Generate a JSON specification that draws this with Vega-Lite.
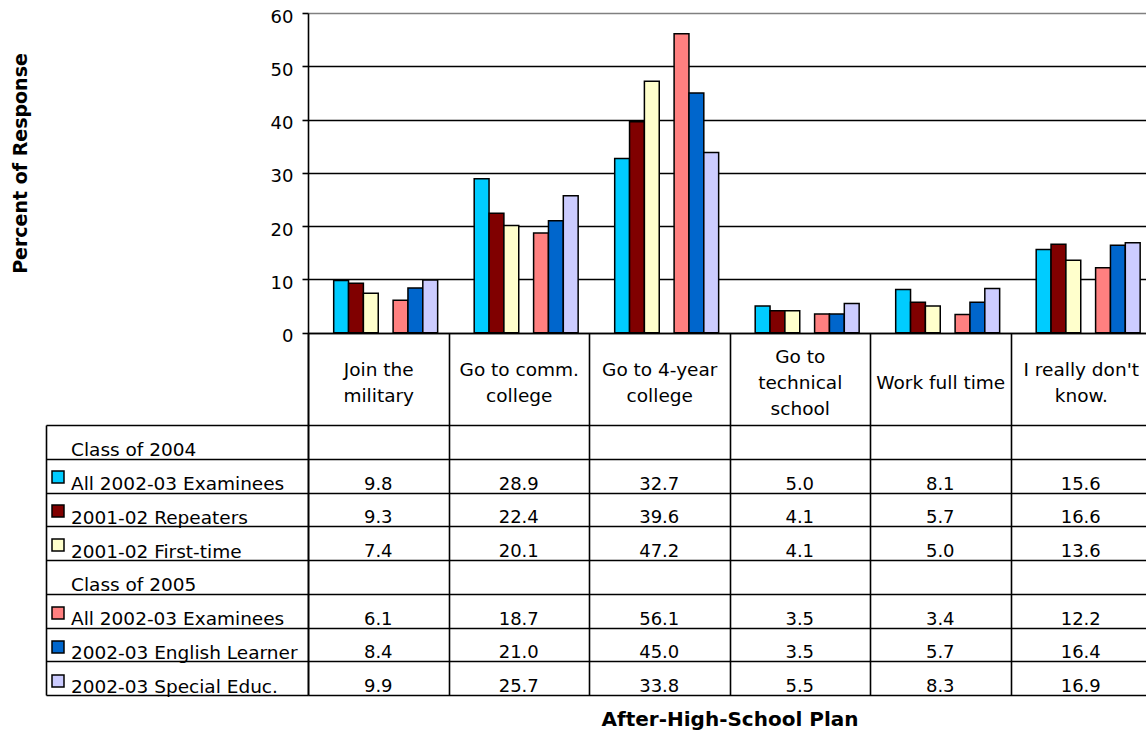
{
  "$schema": "https://vega.github.io/schema/vega-lite/v6.json",
  "width": 838,
  "height": 682,
  "autosize": {"type": "none"},
  "padding": {"left": 308, "top": 13, "right": 0, "bottom": 41},
  "config": {"font": "DejaVu Sans", "view": {"stroke": null}},
  "data": {"values": [
    {"plan": "Join the military", "series": "All 2002-03 Examinees (Class of 2004)", "value": 9.8},
    {"plan": "Join the military", "series": "2001-02 Repeaters", "value": 9.3},
    {"plan": "Join the military", "series": "2001-02 First-time", "value": 7.4},
    {"plan": "Join the military", "series": "All 2002-03 Examinees (Class of 2005)", "value": 6.1},
    {"plan": "Join the military", "series": "2002-03 English Learner", "value": 8.4},
    {"plan": "Join the military", "series": "2002-03 Special Educ.", "value": 9.9},
    {"plan": "Go to comm. college", "series": "All 2002-03 Examinees (Class of 2004)", "value": 28.9},
    {"plan": "Go to comm. college", "series": "2001-02 Repeaters", "value": 22.4},
    {"plan": "Go to comm. college", "series": "2001-02 First-time", "value": 20.1},
    {"plan": "Go to comm. college", "series": "All 2002-03 Examinees (Class of 2005)", "value": 18.7},
    {"plan": "Go to comm. college", "series": "2002-03 English Learner", "value": 21.0},
    {"plan": "Go to comm. college", "series": "2002-03 Special Educ.", "value": 25.7},
    {"plan": "Go to 4-year college", "series": "All 2002-03 Examinees (Class of 2004)", "value": 32.7},
    {"plan": "Go to 4-year college", "series": "2001-02 Repeaters", "value": 39.6},
    {"plan": "Go to 4-year college", "series": "2001-02 First-time", "value": 47.2},
    {"plan": "Go to 4-year college", "series": "All 2002-03 Examinees (Class of 2005)", "value": 56.1},
    {"plan": "Go to 4-year college", "series": "2002-03 English Learner", "value": 45.0},
    {"plan": "Go to 4-year college", "series": "2002-03 Special Educ.", "value": 33.8},
    {"plan": "Go to technical school", "series": "All 2002-03 Examinees (Class of 2004)", "value": 5.0},
    {"plan": "Go to technical school", "series": "2001-02 Repeaters", "value": 4.1},
    {"plan": "Go to technical school", "series": "2001-02 First-time", "value": 4.1},
    {"plan": "Go to technical school", "series": "All 2002-03 Examinees (Class of 2005)", "value": 3.5},
    {"plan": "Go to technical school", "series": "2002-03 English Learner", "value": 3.5},
    {"plan": "Go to technical school", "series": "2002-03 Special Educ.", "value": 5.5},
    {"plan": "Work full time", "series": "All 2002-03 Examinees (Class of 2004)", "value": 8.1},
    {"plan": "Work full time", "series": "2001-02 Repeaters", "value": 5.7},
    {"plan": "Work full time", "series": "2001-02 First-time", "value": 5.0},
    {"plan": "Work full time", "series": "All 2002-03 Examinees (Class of 2005)", "value": 3.4},
    {"plan": "Work full time", "series": "2002-03 English Learner", "value": 5.7},
    {"plan": "Work full time", "series": "2002-03 Special Educ.", "value": 8.3},
    {"plan": "I really don't know.", "series": "All 2002-03 Examinees (Class of 2004)", "value": 15.6},
    {"plan": "I really don't know.", "series": "2001-02 Repeaters", "value": 16.6},
    {"plan": "I really don't know.", "series": "2001-02 First-time", "value": 13.6},
    {"plan": "I really don't know.", "series": "All 2002-03 Examinees (Class of 2005)", "value": 12.2},
    {"plan": "I really don't know.", "series": "2002-03 English Learner", "value": 16.4},
    {"plan": "I really don't know.", "series": "2002-03 Special Educ.", "value": 16.9}
  ]},
  "resolve": {"scale": {"y": "independent"}, "axis": {"y": "independent"}},
  "layer": [
    {
      "mark": {"type": "bar", "stroke": "black", "strokeWidth": 1.5},
      "encoding": {
        "x": {
          "field": "plan", "type": "nominal", "sort": null,
          "scale": {"type": "band", "paddingInner": 0, "paddingOuter": 0, "range": [0, 843],
            "domain": ["Join the military", "Go to comm. college", "Go to 4-year college", "Go to technical school", "Work full time", "I really don't know."]},
          "axis": {
            "orient": "bottom", "offset": -362, "grid": false,
            "domain": true, "domainColor": "black", "domainWidth": 1.6,
            "ticks": true, "tickBand": "extent", "tickSize": 362, "tickColor": "black", "tickWidth": 1.6,
            "labelAngle": 0, "labelAlign": "center", "labelBaseline": "middle",
            "labelPadding": -339, "labelFontSize": 18.5, "labelColor": "black", "labelLineHeight": 13,
            "labelFont": "DejaVu Sans",
            "labelExpr": "datum.value == null ? '' : datum.value == 'Join the military' ? ['\u200b', 'Join the', '\u200b', 'military'] : datum.value == 'Go to comm. college' ? ['\u200b', 'Go to comm.', '\u200b', 'college'] : datum.value == 'Go to 4-year college' ? ['\u200b', 'Go to 4-year', '\u200b', 'college'] : datum.value == 'Go to technical school' ? ['Go to', '\u200b', 'technical', '\u200b', 'school'] : datum.value == \"I really don't know.\" ? ['\u200b', \"I really don't\", '\u200b', 'know.'] : ['\u200b', '\u200b', datum.value]",
            "title": "After-High-School Plan", "titleFont": "DejaVu Sans", "titleFontSize": 20, "titleFontWeight": "bold",
            "titleColor": "black", "titleY": 386, "titleBaseline": "middle"
          }
        },
        "xOffset": {
          "field": "series", "type": "nominal",
          "scale": {"paddingOuter": 0.73, "paddingInner": 0,
            "domain": ["Class of 2004", "All 2002-03 Examinees (Class of 2004)", "2001-02 Repeaters", "2001-02 First-time", "Class of 2005", "All 2002-03 Examinees (Class of 2005)", "2002-03 English Learner", "2002-03 Special Educ."]}
        },
        "y": {
          "field": "value", "type": "quantitative",
          "scale": {"domain": [-68, 60], "nice": false},
          "axis": {
            "orient": "left", "values": [0, 10, 20, 30, 40, 50, 60],
            "grid": true, "gridColor": {"expr": "datum.value == 60 ? '#808080' : 'black'"}, "gridWidth": 1.6,
            "domain": true, "domainColor": "black", "domainWidth": 1.6,
            "ticks": true, "tickSize": 6, "tickColor": "black", "tickWidth": 1.6,
            "labelFontSize": 18, "labelColor": "black", "labelPadding": 9, "labelOffset": 4, "labelFont": "DejaVu Sans",
            "title": "Percent of Response", "titleFont": "DejaVu Sans", "titleFontSize": 19, "titleFontWeight": "bold",
            "titleColor": "black", "titleX": -288, "titleY": 150, "titleAngle": -90, "titleBaseline": "middle", "titleAlign": "center"
          }
        },
        "color": {
          "field": "series", "type": "nominal",
          "scale": {
            "domain": ["Class of 2004", "All 2002-03 Examinees (Class of 2004)", "2001-02 Repeaters", "2001-02 First-time", "Class of 2005", "All 2002-03 Examinees (Class of 2005)", "2002-03 English Learner", "2002-03 Special Educ."],
            "range": ["transparent", "#00CCFF", "#800000", "#FFFFCC", "transparent", "#FF8080", "#0066CC", "#CCCCFF"]
          },
          "legend": {
            "orient": "none", "legendX": -257, "legendY": 413, "title": null, "labelExpr": "''",
            "symbolType": "square", "symbolSize": 144, "symbolStrokeColor": "black", "symbolStrokeWidth": 1.5,
            "symbolOpacity": 1, "clipHeight": 33.75, "rowPadding": 0, "padding": 0, "direction": "vertical",
            "encode": {"symbols": {"update": {"stroke": {"signal": "indexof(datum.value, 'Class of') == 0 ? 'transparent' : 'black'"}}}}
          }
        }
      }
    },
    {
      "mark": {"type": "text", "fontSize": 18, "font": "DejaVu Sans", "color": "black", "baseline": "middle", "align": "center", "dy": 9},
      "encoding": {
        "x": {"field": "plan", "type": "nominal", "sort": null},
        "y": {
          "field": "series", "type": "nominal",
          "scale": {"type": "band", "paddingInner": 0, "paddingOuter": 0, "range": [412, 682],
            "domain": ["Class of 2004", "All 2002-03 Examinees (Class of 2004)", "2001-02 Repeaters", "2001-02 First-time", "Class of 2005", "All 2002-03 Examinees (Class of 2005)", "2002-03 English Learner", "2002-03 Special Educ."]},
          "axis": {
            "orient": "left", "offset": 262, "title": null,
            "domain": true, "domainColor": "black", "domainWidth": 1.6,
            "ticks": true, "tickBand": "extent", "tickSize": -262, "tickColor": "black", "tickWidth": 1.6,
            "grid": true, "gridColor": "black", "gridWidth": 1.6,
            "labelAlign": "left", "labelBaseline": "middle", "labelPadding": 237.5, "labelOffset": 8,
            "labelFontSize": 18.5, "labelColor": "black", "labelFont": "DejaVu Sans", "labelLimit": 400,
            "labelExpr": "datum.value == null ? '' : replace(replace(datum.value, ' (Class of 2004)', ''), ' (Class of 2005)', '')"
          }
        },
        "text": {"field": "value", "type": "quantitative", "format": ".1f"}
      }
    }
  ]
}
